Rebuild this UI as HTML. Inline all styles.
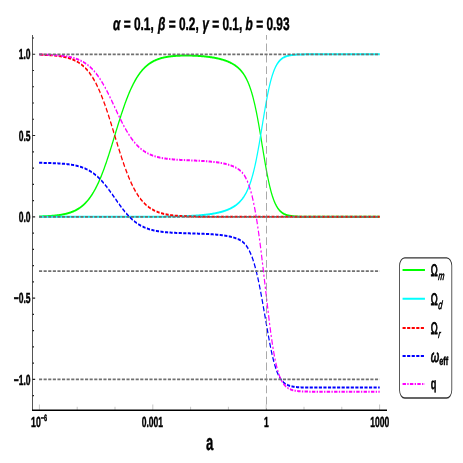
<!DOCTYPE html><html><head><meta charset="utf-8"><title>plot</title>
<style>html,body{margin:0;padding:0;background:#fff;}svg{display:block;will-change:transform;opacity:0.999;}text{font-family:"Liberation Sans",sans-serif;fill:#000;stroke:#000;stroke-width:0.45px;text-rendering:geometricPrecision;}</style></head><body>
<svg width="463" height="463" viewBox="0 0 463 463">
<rect width="463" height="463" fill="#fff"/>
<g transform="scale(0.6,1)">
<path d="M54.17,395.66h2.5 M54.17,379.40h4.4 M54.17,363.14h2.5 M54.17,346.89h2.5 M54.17,330.63h2.5 M54.17,314.38h2.5 M54.17,298.12h4.4 M54.17,281.87h2.5 M54.17,265.62h2.5 M54.17,249.36h2.5 M54.17,233.10h2.5 M54.17,216.85h4.4 M54.17,200.59h2.5 M54.17,184.34h2.5 M54.17,168.08h2.5 M54.17,151.83h2.5 M54.17,135.57h4.4 M54.17,119.32h2.5 M54.17,103.06h2.5 M54.17,86.81h2.5 M54.17,70.55h2.5 M54.17,54.30h4.4 M54.17,38.04h2.5" stroke="#222" stroke-width="1.1" fill="none"/>
<path d="M65.67,410v-5.5 M128.67,410v-3.2 M191.67,410v-3.2 M254.67,410v-5.5 M317.67,410v-3.2 M380.67,410v-3.2 M443.67,410v-5.5 M506.67,410v-3.2 M569.67,410v-3.2 M632.67,410v-5.5" stroke="#999" stroke-width="0.7" fill="none"/>
<path d="M65.17,216.49 L65.88,216.48 L66.59,216.47 L67.30,216.46 L68.01,216.44 L68.72,216.43 L69.43,216.41 L70.14,216.40 L70.85,216.38 L71.56,216.37 L72.27,216.35 L72.98,216.33 L73.69,216.31 L74.40,216.29 L75.11,216.28 L75.82,216.25 L76.53,216.23 L77.24,216.21 L77.96,216.19 L78.67,216.17 L79.38,216.14 L80.09,216.12 L80.80,216.09 L81.51,216.07 L82.22,216.04 L82.93,216.01 L83.64,215.98 L84.35,215.95 L85.06,215.92 L85.77,215.89 L86.48,215.85 L87.19,215.82 L87.90,215.78 L88.61,215.75 L89.32,215.71 L90.03,215.67 L90.74,215.63 L91.45,215.58 L92.16,215.54 L92.88,215.49 L93.59,215.45 L94.30,215.40 L95.01,215.35 L95.72,215.30 L96.43,215.24 L97.14,215.19 L97.85,215.13 L98.56,215.07 L99.27,215.01 L99.98,214.94 L100.69,214.88 L101.40,214.81 L102.11,214.74 L102.82,214.66 L103.53,214.59 L104.24,214.51 L104.95,214.43 L105.66,214.34 L106.37,214.26 L107.08,214.17 L107.79,214.08 L108.51,213.98 L109.22,213.88 L109.93,213.78 L110.64,213.67 L111.35,213.56 L112.06,213.45 L112.77,213.33 L113.48,213.21 L114.19,213.09 L114.90,212.96 L115.61,212.83 L116.32,212.69 L117.03,212.55 L117.74,212.40 L118.45,212.25 L119.16,212.09 L119.87,211.93 L120.58,211.76 L121.29,211.59 L122.00,211.41 L122.71,211.23 L123.43,211.04 L124.14,210.84 L124.85,210.64 L125.56,210.43 L126.27,210.21 L126.98,209.99 L127.69,209.76 L128.40,209.52 L129.11,209.27 L129.82,209.02 L130.53,208.76 L131.24,208.49 L131.95,208.21 L132.66,207.93 L133.37,207.63 L134.08,207.33 L134.79,207.01 L135.50,206.69 L136.21,206.35 L136.92,206.01 L137.63,205.66 L138.35,205.29 L139.06,204.91 L139.77,204.53 L140.48,204.13 L141.19,203.72 L141.90,203.29 L142.61,202.86 L143.32,202.41 L144.03,201.95 L144.74,201.48 L145.45,200.99 L146.16,200.49 L146.87,199.98 L147.58,199.45 L148.29,198.90 L149.00,198.34 L149.71,197.77 L150.42,197.18 L151.13,196.58 L151.84,195.96 L152.55,195.32 L153.27,194.67 L153.98,194.00 L154.69,193.31 L155.40,192.61 L156.11,191.89 L156.82,191.15 L157.53,190.40 L158.24,189.62 L158.95,188.83 L159.66,188.02 L160.37,187.19 L161.08,186.35 L161.79,185.48 L162.50,184.60 L163.21,183.70 L163.92,182.78 L164.63,181.84 L165.34,180.88 L166.05,179.91 L166.76,178.91 L167.47,177.90 L168.19,176.87 L168.90,175.82 L169.61,174.75 L170.32,173.67 L171.03,172.57 L171.74,171.44 L172.45,170.31 L173.16,169.15 L173.87,167.98 L174.58,166.79 L175.29,165.59 L176.00,164.37 L176.71,163.14 L177.42,161.89 L178.13,160.63 L178.84,159.35 L179.55,158.06 L180.26,156.76 L180.97,155.45 L181.68,154.13 L182.39,152.79 L183.10,151.45 L183.82,150.09 L184.53,148.73 L185.24,147.36 L185.95,145.99 L186.66,144.61 L187.37,143.22 L188.08,141.83 L188.79,140.43 L189.50,139.03 L190.21,137.63 L190.92,136.23 L191.63,134.83 L192.34,133.43 L193.05,132.03 L193.76,130.63 L194.47,129.23 L195.18,127.84 L195.89,126.45 L196.60,125.07 L197.31,123.70 L198.02,122.33 L198.74,120.97 L199.45,119.62 L200.16,118.27 L200.87,116.94 L201.58,115.62 L202.29,114.30 L203.00,113.00 L203.71,111.72 L204.42,110.44 L205.13,109.18 L205.84,107.94 L206.55,106.70 L207.26,105.49 L207.97,104.28 L208.68,103.10 L209.39,101.93 L210.10,100.78 L210.81,99.64 L211.52,98.52 L212.23,97.42 L212.94,96.34 L213.66,95.27 L214.37,94.22 L215.08,93.19 L215.79,92.18 L216.50,91.19 L217.21,90.22 L217.92,89.26 L218.63,88.33 L219.34,87.41 L220.05,86.51 L220.76,85.63 L221.47,84.77 L222.18,83.92 L222.89,83.10 L223.60,82.29 L224.31,81.50 L225.02,80.73 L225.73,79.98 L226.44,79.24 L227.15,78.52 L227.86,77.82 L228.58,77.14 L229.29,76.47 L230.00,75.82 L230.71,75.19 L231.42,74.57 L232.13,73.97 L232.84,73.38 L233.55,72.81 L234.26,72.26 L234.97,71.72 L235.68,71.19 L236.39,70.68 L237.10,70.18 L237.81,69.69 L238.52,69.22 L239.23,68.76 L239.94,68.32 L240.65,67.89 L241.36,67.47 L242.07,67.06 L242.78,66.66 L243.49,66.28 L244.21,65.91 L244.92,65.54 L245.63,65.19 L246.34,64.85 L247.05,64.52 L247.76,64.20 L248.47,63.89 L249.18,63.59 L249.89,63.29 L250.60,63.01 L251.31,62.74 L252.02,62.47 L252.73,62.21 L253.44,61.96 L254.15,61.72 L254.86,61.49 L255.57,61.26 L256.28,61.04 L256.99,60.83 L257.70,60.62 L258.41,60.42 L259.13,60.23 L259.84,60.04 L260.55,59.86 L261.26,59.69 L261.97,59.52 L262.68,59.35 L263.39,59.20 L264.10,59.04 L264.81,58.90 L265.52,58.75 L266.23,58.62 L266.94,58.48 L267.65,58.35 L268.36,58.23 L269.07,58.11 L269.78,57.99 L270.49,57.88 L271.20,57.77 L271.91,57.67 L272.62,57.57 L273.33,57.47 L274.05,57.38 L274.76,57.29 L275.47,57.20 L276.18,57.12 L276.89,57.04 L277.60,56.96 L278.31,56.89 L279.02,56.81 L279.73,56.74 L280.44,56.68 L281.15,56.61 L281.86,56.55 L282.57,56.49 L283.28,56.44 L283.99,56.38 L284.70,56.33 L285.41,56.28 L286.12,56.23 L286.83,56.19 L287.54,56.14 L288.25,56.10 L288.97,56.06 L289.68,56.02 L290.39,55.98 L291.10,55.95 L291.81,55.92 L292.52,55.88 L293.23,55.85 L293.94,55.83 L294.65,55.80 L295.36,55.77 L296.07,55.75 L296.78,55.73 L297.49,55.71 L298.20,55.69 L298.91,55.67 L299.62,55.65 L300.33,55.63 L301.04,55.62 L301.75,55.61 L302.46,55.59 L303.17,55.58 L303.89,55.57 L304.60,55.56 L305.31,55.56 L306.02,55.55 L306.73,55.54 L307.44,55.54 L308.15,55.53 L308.86,55.53 L309.57,55.53 L310.28,55.53 L310.99,55.53 L311.70,55.53 L312.41,55.53 L313.12,55.54 L313.83,55.54 L314.54,55.55 L315.25,55.55 L315.96,55.56 L316.67,55.57 L317.38,55.58 L318.09,55.59 L318.80,55.60 L319.52,55.61 L320.23,55.62 L320.94,55.64 L321.65,55.65 L322.36,55.67 L323.07,55.68 L323.78,55.70 L324.49,55.72 L325.20,55.74 L325.91,55.76 L326.62,55.78 L327.33,55.80 L328.04,55.82 L328.75,55.84 L329.46,55.87 L330.17,55.90 L330.88,55.92 L331.59,55.95 L332.30,55.98 L333.01,56.01 L333.72,56.04 L334.44,56.07 L335.15,56.10 L335.86,56.14 L336.57,56.17 L337.28,56.21 L337.99,56.24 L338.70,56.28 L339.41,56.32 L340.12,56.36 L340.83,56.40 L341.54,56.45 L342.25,56.49 L342.96,56.54 L343.67,56.58 L344.38,56.63 L345.09,56.68 L345.80,56.73 L346.51,56.78 L347.22,56.84 L347.93,56.89 L348.64,56.95 L349.36,57.01 L350.07,57.07 L350.78,57.13 L351.49,57.19 L352.20,57.25 L352.91,57.32 L353.62,57.39 L354.33,57.45 L355.04,57.53 L355.75,57.60 L356.46,57.67 L357.17,57.75 L357.88,57.83 L358.59,57.91 L359.30,57.99 L360.01,58.07 L360.72,58.16 L361.43,58.25 L362.14,58.34 L362.85,58.43 L363.56,58.53 L364.28,58.63 L364.99,58.73 L365.70,58.83 L366.41,58.94 L367.12,59.04 L367.83,59.15 L368.54,59.27 L369.25,59.39 L369.96,59.51 L370.67,59.63 L371.38,59.75 L372.09,59.88 L372.80,60.02 L373.51,60.15 L374.22,60.29 L374.93,60.44 L375.64,60.58 L376.35,60.74 L377.06,60.89 L377.77,61.05 L378.48,61.22 L379.20,61.39 L379.91,61.56 L380.62,61.74 L381.33,61.92 L382.04,62.11 L382.75,62.31 L383.46,62.51 L384.17,62.71 L384.88,62.93 L385.59,63.15 L386.30,63.37 L387.01,63.60 L387.72,63.84 L388.43,64.09 L389.14,64.35 L389.85,64.61 L390.56,64.88 L391.27,65.17 L391.98,65.46 L392.69,65.76 L393.40,66.07 L394.11,66.40 L394.83,66.73 L395.54,67.08 L396.25,67.44 L396.96,67.81 L397.67,68.20 L398.38,68.60 L399.09,69.01 L399.80,69.45 L400.51,69.90 L401.22,70.37 L401.93,70.85 L402.64,71.36 L403.35,71.89 L404.06,72.44 L404.77,73.01 L405.48,73.61 L406.19,74.23 L406.90,74.89 L407.61,75.56 L408.32,76.27 L409.03,77.01 L409.75,77.79 L410.46,78.59 L411.17,79.44 L411.88,80.32 L412.59,81.24 L413.30,82.20 L414.01,83.21 L414.72,84.26 L415.43,85.35 L416.14,86.50 L416.85,87.70 L417.56,88.95 L418.27,90.25 L418.98,91.61 L419.69,93.02 L420.40,94.50 L421.11,96.03 L421.82,97.63 L422.53,99.29 L423.24,101.01 L423.95,102.80 L424.67,104.65 L425.38,106.56 L426.09,108.54 L426.80,110.58 L427.51,112.69 L428.22,114.85 L428.93,117.07 L429.64,119.35 L430.35,121.68 L431.06,124.07 L431.77,126.49 L432.48,128.96 L433.19,131.47 L433.90,134.01 L434.61,136.58 L435.32,139.17 L436.03,141.77 L436.74,144.39 L437.45,147.00 L438.16,149.61 L438.87,152.22 L439.59,154.80 L440.30,157.37 L441.01,159.90 L441.72,162.40 L442.43,164.86 L443.14,167.27 L443.85,169.63 L444.56,171.94 L445.27,174.18 L445.98,176.36 L446.69,178.48 L447.40,180.53 L448.11,182.51 L448.82,184.41 L449.53,186.25 L450.24,188.00 L450.95,189.69 L451.66,191.30 L452.37,192.83 L453.08,194.30 L453.79,195.69 L454.51,197.01 L455.22,198.26 L455.93,199.45 L456.64,200.57 L457.35,201.63 L458.06,202.63 L458.77,203.57 L459.48,204.46 L460.19,205.29 L460.90,206.08 L461.61,206.81 L462.32,207.50 L463.03,208.14 L463.74,208.75 L464.45,209.31 L465.16,209.84 L465.87,210.33 L466.58,210.79 L467.29,211.22 L468.00,211.62 L468.71,212.00 L469.42,212.34 L470.14,212.67 L470.85,212.97 L471.56,213.25 L472.27,213.51 L472.98,213.75 L473.69,213.98 L474.40,214.19 L475.11,214.38 L475.82,214.56 L476.53,214.73 L477.24,214.88 L477.95,215.03 L478.66,215.16 L479.37,215.29 L480.08,215.40 L480.79,215.51 L481.50,215.61 L482.21,215.70 L482.92,215.78 L483.63,215.86 L484.34,215.94 L485.06,216.00 L485.77,216.07 L486.48,216.12 L487.19,216.18 L487.90,216.23 L488.61,216.27 L489.32,216.32 L490.03,216.36 L490.74,216.39 L491.45,216.43 L492.16,216.46 L492.87,216.49 L493.58,216.52 L494.29,216.54 L495.00,216.56 L495.71,216.58 L496.42,216.60 L497.13,216.62 L497.84,216.64 L498.55,216.66 L499.26,216.67 L499.98,216.68 L500.69,216.70 L501.40,216.71 L502.11,216.72 L502.82,216.73 L503.53,216.74 L504.24,216.75 L504.95,216.75 L505.66,216.76 L506.37,216.77 L507.08,216.77 L507.79,216.78 L508.50,216.78 L509.21,216.79 L509.92,216.79 L510.63,216.80 L511.34,216.80 L512.05,216.81 L512.76,216.81 L513.47,216.81 L514.18,216.81 L514.90,216.82 L515.61,216.82 L516.32,216.82 L517.03,216.82 L517.74,216.83 L518.45,216.83 L519.16,216.83 L519.87,216.83 L520.58,216.83 L521.29,216.83 L522.00,216.84 L522.71,216.84 L523.42,216.84 L524.13,216.84 L524.84,216.84 L525.55,216.84 L526.26,216.84 L526.97,216.84 L527.68,216.84 L528.39,216.84 L529.10,216.84 L529.81,216.84 L530.53,216.84 L531.24,216.84 L531.95,216.84 L532.66,216.85 L533.37,216.85 L534.08,216.85 L534.79,216.85 L535.50,216.85 L536.21,216.85 L536.92,216.85 L537.63,216.85 L538.34,216.85 L539.05,216.85 L539.76,216.85 L540.47,216.85 L541.18,216.85 L541.89,216.85 L542.60,216.85 L543.31,216.85 L544.02,216.85 L544.73,216.85 L545.45,216.85 L546.16,216.85 L546.87,216.85 L547.58,216.85 L548.29,216.85 L549.00,216.85 L549.71,216.85 L550.42,216.85 L551.13,216.85 L551.84,216.85 L552.55,216.85 L553.26,216.85 L553.97,216.85 L554.68,216.85 L555.39,216.85 L556.10,216.85 L556.81,216.85 L557.52,216.85 L558.23,216.85 L558.94,216.85 L559.65,216.85 L560.37,216.85 L561.08,216.85 L561.79,216.85 L562.50,216.85 L563.21,216.85 L563.92,216.85 L564.63,216.85 L565.34,216.85 L566.05,216.85 L566.76,216.85 L567.47,216.85 L568.18,216.85 L568.89,216.85 L569.60,216.85 L570.31,216.85 L571.02,216.85 L571.73,216.85 L572.44,216.85 L573.15,216.85 L573.86,216.85 L574.57,216.85 L575.29,216.85 L576.00,216.85 L576.71,216.85 L577.42,216.85 L578.13,216.85 L578.84,216.85 L579.55,216.85 L580.26,216.85 L580.97,216.85 L581.68,216.85 L582.39,216.85 L583.10,216.85 L583.81,216.85 L584.52,216.85 L585.23,216.85 L585.94,216.85 L586.65,216.85 L587.36,216.85 L588.07,216.85 L588.78,216.85 L589.49,216.85 L590.21,216.85 L590.92,216.85 L591.63,216.85 L592.34,216.85 L593.05,216.85 L593.76,216.85 L594.47,216.85 L595.18,216.85 L595.89,216.85 L596.60,216.85 L597.31,216.85 L598.02,216.85 L598.73,216.85 L599.44,216.85 L600.15,216.85 L600.86,216.85 L601.57,216.85 L602.28,216.85 L602.99,216.85 L603.70,216.85 L604.41,216.85 L605.12,216.85 L605.84,216.85 L606.55,216.85 L607.26,216.85 L607.97,216.85 L608.68,216.85 L609.39,216.85 L610.10,216.85 L610.81,216.85 L611.52,216.85 L612.23,216.85 L612.94,216.85 L613.65,216.85 L614.36,216.85 L615.07,216.85 L615.78,216.85 L616.49,216.85 L617.20,216.85 L617.91,216.85 L618.62,216.85 L619.33,216.85 L620.04,216.85 L620.76,216.85 L621.47,216.85 L622.18,216.85 L622.89,216.85 L623.60,216.85 L624.31,216.85 L625.02,216.85 L625.73,216.85 L626.44,216.85 L627.15,216.85 L627.86,216.85 L628.57,216.85 L629.28,216.85 L629.99,216.85 L630.70,216.85 L631.41,216.85 L632.12,216.85 L632.83,216.85" stroke="#00ff00" stroke-width="2.0" fill="none" stroke-linejoin="round"/>
<path d="M65.17,216.85 L65.88,216.85 L66.59,216.85 L67.30,216.85 L68.01,216.85 L68.72,216.85 L69.43,216.85 L70.14,216.85 L70.85,216.85 L71.56,216.85 L72.27,216.85 L72.98,216.85 L73.69,216.85 L74.40,216.85 L75.11,216.85 L75.82,216.85 L76.53,216.85 L77.24,216.85 L77.96,216.85 L78.67,216.85 L79.38,216.85 L80.09,216.85 L80.80,216.85 L81.51,216.85 L82.22,216.85 L82.93,216.85 L83.64,216.85 L84.35,216.85 L85.06,216.85 L85.77,216.85 L86.48,216.85 L87.19,216.85 L87.90,216.85 L88.61,216.85 L89.32,216.85 L90.03,216.85 L90.74,216.85 L91.45,216.85 L92.16,216.85 L92.88,216.85 L93.59,216.85 L94.30,216.85 L95.01,216.85 L95.72,216.85 L96.43,216.85 L97.14,216.85 L97.85,216.85 L98.56,216.85 L99.27,216.85 L99.98,216.85 L100.69,216.85 L101.40,216.85 L102.11,216.85 L102.82,216.85 L103.53,216.85 L104.24,216.85 L104.95,216.85 L105.66,216.85 L106.37,216.85 L107.08,216.85 L107.79,216.85 L108.51,216.85 L109.22,216.85 L109.93,216.85 L110.64,216.85 L111.35,216.85 L112.06,216.85 L112.77,216.85 L113.48,216.85 L114.19,216.85 L114.90,216.85 L115.61,216.85 L116.32,216.85 L117.03,216.85 L117.74,216.85 L118.45,216.85 L119.16,216.85 L119.87,216.85 L120.58,216.85 L121.29,216.85 L122.00,216.85 L122.71,216.85 L123.43,216.85 L124.14,216.85 L124.85,216.85 L125.56,216.85 L126.27,216.85 L126.98,216.85 L127.69,216.85 L128.40,216.85 L129.11,216.85 L129.82,216.85 L130.53,216.85 L131.24,216.85 L131.95,216.85 L132.66,216.85 L133.37,216.85 L134.08,216.85 L134.79,216.85 L135.50,216.85 L136.21,216.85 L136.92,216.85 L137.63,216.85 L138.35,216.85 L139.06,216.85 L139.77,216.85 L140.48,216.85 L141.19,216.85 L141.90,216.85 L142.61,216.85 L143.32,216.85 L144.03,216.85 L144.74,216.85 L145.45,216.85 L146.16,216.85 L146.87,216.85 L147.58,216.85 L148.29,216.85 L149.00,216.85 L149.71,216.85 L150.42,216.85 L151.13,216.85 L151.84,216.85 L152.55,216.85 L153.27,216.85 L153.98,216.85 L154.69,216.85 L155.40,216.85 L156.11,216.85 L156.82,216.85 L157.53,216.85 L158.24,216.85 L158.95,216.85 L159.66,216.85 L160.37,216.85 L161.08,216.85 L161.79,216.85 L162.50,216.85 L163.21,216.85 L163.92,216.85 L164.63,216.85 L165.34,216.85 L166.05,216.85 L166.76,216.85 L167.47,216.85 L168.19,216.85 L168.90,216.85 L169.61,216.85 L170.32,216.85 L171.03,216.85 L171.74,216.85 L172.45,216.85 L173.16,216.85 L173.87,216.85 L174.58,216.85 L175.29,216.85 L176.00,216.85 L176.71,216.85 L177.42,216.85 L178.13,216.85 L178.84,216.85 L179.55,216.85 L180.26,216.85 L180.97,216.85 L181.68,216.85 L182.39,216.85 L183.10,216.85 L183.82,216.85 L184.53,216.85 L185.24,216.84 L185.95,216.84 L186.66,216.84 L187.37,216.84 L188.08,216.84 L188.79,216.84 L189.50,216.84 L190.21,216.84 L190.92,216.84 L191.63,216.84 L192.34,216.84 L193.05,216.84 L193.76,216.84 L194.47,216.84 L195.18,216.84 L195.89,216.84 L196.60,216.84 L197.31,216.84 L198.02,216.84 L198.74,216.84 L199.45,216.84 L200.16,216.84 L200.87,216.84 L201.58,216.84 L202.29,216.84 L203.00,216.84 L203.71,216.84 L204.42,216.84 L205.13,216.83 L205.84,216.83 L206.55,216.83 L207.26,216.83 L207.97,216.83 L208.68,216.83 L209.39,216.83 L210.10,216.83 L210.81,216.83 L211.52,216.83 L212.23,216.83 L212.94,216.83 L213.66,216.83 L214.37,216.83 L215.08,216.83 L215.79,216.82 L216.50,216.82 L217.21,216.82 L217.92,216.82 L218.63,216.82 L219.34,216.82 L220.05,216.82 L220.76,216.82 L221.47,216.82 L222.18,216.82 L222.89,216.82 L223.60,216.81 L224.31,216.81 L225.02,216.81 L225.73,216.81 L226.44,216.81 L227.15,216.81 L227.86,216.81 L228.58,216.81 L229.29,216.81 L230.00,216.80 L230.71,216.80 L231.42,216.80 L232.13,216.80 L232.84,216.80 L233.55,216.80 L234.26,216.80 L234.97,216.79 L235.68,216.79 L236.39,216.79 L237.10,216.79 L237.81,216.79 L238.52,216.79 L239.23,216.78 L239.94,216.78 L240.65,216.78 L241.36,216.78 L242.07,216.78 L242.78,216.78 L243.49,216.77 L244.21,216.77 L244.92,216.77 L245.63,216.77 L246.34,216.77 L247.05,216.76 L247.76,216.76 L248.47,216.76 L249.18,216.76 L249.89,216.75 L250.60,216.75 L251.31,216.75 L252.02,216.75 L252.73,216.74 L253.44,216.74 L254.15,216.74 L254.86,216.74 L255.57,216.73 L256.28,216.73 L256.99,216.73 L257.70,216.72 L258.41,216.72 L259.13,216.72 L259.84,216.71 L260.55,216.71 L261.26,216.71 L261.97,216.70 L262.68,216.70 L263.39,216.70 L264.10,216.69 L264.81,216.69 L265.52,216.69 L266.23,216.68 L266.94,216.68 L267.65,216.67 L268.36,216.67 L269.07,216.66 L269.78,216.66 L270.49,216.65 L271.20,216.65 L271.91,216.65 L272.62,216.64 L273.33,216.64 L274.05,216.63 L274.76,216.62 L275.47,216.62 L276.18,216.61 L276.89,216.61 L277.60,216.60 L278.31,216.60 L279.02,216.59 L279.73,216.58 L280.44,216.58 L281.15,216.57 L281.86,216.56 L282.57,216.56 L283.28,216.55 L283.99,216.54 L284.70,216.54 L285.41,216.53 L286.12,216.52 L286.83,216.51 L287.54,216.50 L288.25,216.50 L288.97,216.49 L289.68,216.48 L290.39,216.47 L291.10,216.46 L291.81,216.45 L292.52,216.44 L293.23,216.43 L293.94,216.42 L294.65,216.41 L295.36,216.40 L296.07,216.39 L296.78,216.38 L297.49,216.37 L298.20,216.36 L298.91,216.35 L299.62,216.33 L300.33,216.32 L301.04,216.31 L301.75,216.30 L302.46,216.28 L303.17,216.27 L303.89,216.26 L304.60,216.24 L305.31,216.23 L306.02,216.21 L306.73,216.20 L307.44,216.18 L308.15,216.17 L308.86,216.15 L309.57,216.13 L310.28,216.12 L310.99,216.10 L311.70,216.08 L312.41,216.06 L313.12,216.05 L313.83,216.03 L314.54,216.01 L315.25,215.99 L315.96,215.97 L316.67,215.95 L317.38,215.92 L318.09,215.90 L318.80,215.88 L319.52,215.86 L320.23,215.83 L320.94,215.81 L321.65,215.79 L322.36,215.76 L323.07,215.74 L323.78,215.71 L324.49,215.68 L325.20,215.65 L325.91,215.63 L326.62,215.60 L327.33,215.57 L328.04,215.54 L328.75,215.51 L329.46,215.48 L330.17,215.44 L330.88,215.41 L331.59,215.38 L332.30,215.34 L333.01,215.31 L333.72,215.27 L334.44,215.23 L335.15,215.20 L335.86,215.16 L336.57,215.12 L337.28,215.08 L337.99,215.03 L338.70,214.99 L339.41,214.95 L340.12,214.90 L340.83,214.86 L341.54,214.81 L342.25,214.76 L342.96,214.71 L343.67,214.66 L344.38,214.61 L345.09,214.56 L345.80,214.51 L346.51,214.45 L347.22,214.40 L347.93,214.34 L348.64,214.28 L349.36,214.22 L350.07,214.16 L350.78,214.09 L351.49,214.03 L352.20,213.96 L352.91,213.89 L353.62,213.82 L354.33,213.75 L355.04,213.68 L355.75,213.61 L356.46,213.53 L357.17,213.45 L357.88,213.37 L358.59,213.29 L359.30,213.21 L360.01,213.12 L360.72,213.03 L361.43,212.94 L362.14,212.85 L362.85,212.76 L363.56,212.66 L364.28,212.56 L364.99,212.46 L365.70,212.35 L366.41,212.25 L367.12,212.14 L367.83,212.02 L368.54,211.91 L369.25,211.79 L369.96,211.67 L370.67,211.55 L371.38,211.42 L372.09,211.29 L372.80,211.16 L373.51,211.02 L374.22,210.88 L374.93,210.73 L375.64,210.59 L376.35,210.43 L377.06,210.28 L377.77,210.12 L378.48,209.95 L379.20,209.78 L379.91,209.61 L380.62,209.43 L381.33,209.24 L382.04,209.05 L382.75,208.86 L383.46,208.66 L384.17,208.45 L384.88,208.24 L385.59,208.02 L386.30,207.79 L387.01,207.56 L387.72,207.32 L388.43,207.07 L389.14,206.81 L389.85,206.55 L390.56,206.27 L391.27,205.99 L391.98,205.70 L392.69,205.40 L393.40,205.09 L394.11,204.76 L394.83,204.43 L395.54,204.08 L396.25,203.72 L396.96,203.35 L397.67,202.96 L398.38,202.56 L399.09,202.14 L399.80,201.71 L400.51,201.26 L401.22,200.79 L401.93,200.30 L402.64,199.79 L403.35,199.27 L404.06,198.72 L404.77,198.14 L405.48,197.54 L406.19,196.92 L406.90,196.27 L407.61,195.59 L408.32,194.88 L409.03,194.14 L409.75,193.37 L410.46,192.56 L411.17,191.72 L411.88,190.83 L412.59,189.91 L413.30,188.95 L414.01,187.95 L414.72,186.90 L415.43,185.80 L416.14,184.65 L416.85,183.45 L417.56,182.21 L418.27,180.90 L418.98,179.54 L419.69,178.13 L420.40,176.65 L421.11,175.12 L421.82,173.52 L422.53,171.86 L423.24,170.14 L423.95,168.35 L424.67,166.50 L425.38,164.59 L426.09,162.61 L426.80,160.57 L427.51,158.46 L428.22,156.30 L428.93,154.08 L429.64,151.80 L430.35,149.47 L431.06,147.08 L431.77,144.66 L432.48,142.19 L433.19,139.68 L433.90,137.14 L434.61,134.57 L435.32,131.98 L436.03,129.38 L436.74,126.76 L437.45,124.15 L438.16,121.54 L438.87,118.93 L439.59,116.35 L440.30,113.78 L441.01,111.25 L441.72,108.75 L442.43,106.29 L443.14,103.88 L443.85,101.52 L444.56,99.21 L445.27,96.97 L445.98,94.79 L446.69,92.67 L447.40,90.62 L448.11,88.64 L448.82,86.74 L449.53,84.90 L450.24,83.15 L450.95,81.46 L451.66,79.85 L452.37,78.32 L453.08,76.85 L453.79,75.46 L454.51,74.14 L455.22,72.89 L455.93,71.70 L456.64,70.58 L457.35,69.52 L458.06,68.52 L458.77,67.58 L459.48,66.69 L460.19,65.86 L460.90,65.07 L461.61,64.34 L462.32,63.65 L463.03,63.01 L463.74,62.40 L464.45,61.84 L465.16,61.31 L465.87,60.82 L466.58,60.36 L467.29,59.93 L468.00,59.53 L468.71,59.15 L469.42,58.81 L470.14,58.48 L470.85,58.18 L471.56,57.90 L472.27,57.64 L472.98,57.40 L473.69,57.17 L474.40,56.96 L475.11,56.77 L475.82,56.59 L476.53,56.42 L477.24,56.27 L477.95,56.12 L478.66,55.99 L479.37,55.86 L480.08,55.75 L480.79,55.64 L481.50,55.54 L482.21,55.45 L482.92,55.37 L483.63,55.29 L484.34,55.21 L485.06,55.15 L485.77,55.08 L486.48,55.03 L487.19,54.97 L487.90,54.92 L488.61,54.88 L489.32,54.83 L490.03,54.79 L490.74,54.76 L491.45,54.72 L492.16,54.69 L492.87,54.66 L493.58,54.63 L494.29,54.61 L495.00,54.59 L495.71,54.57 L496.42,54.55 L497.13,54.53 L497.84,54.51 L498.55,54.49 L499.26,54.48 L499.98,54.47 L500.69,54.45 L501.40,54.44 L502.11,54.43 L502.82,54.42 L503.53,54.41 L504.24,54.40 L504.95,54.40 L505.66,54.39 L506.37,54.38 L507.08,54.38 L507.79,54.37 L508.50,54.37 L509.21,54.36 L509.92,54.36 L510.63,54.35 L511.34,54.35 L512.05,54.34 L512.76,54.34 L513.47,54.34 L514.18,54.34 L514.90,54.33 L515.61,54.33 L516.32,54.33 L517.03,54.33 L517.74,54.32 L518.45,54.32 L519.16,54.32 L519.87,54.32 L520.58,54.32 L521.29,54.32 L522.00,54.31 L522.71,54.31 L523.42,54.31 L524.13,54.31 L524.84,54.31 L525.55,54.31 L526.26,54.31 L526.97,54.31 L527.68,54.31 L528.39,54.31 L529.10,54.31 L529.81,54.31 L530.53,54.31 L531.24,54.31 L531.95,54.31 L532.66,54.30 L533.37,54.30 L534.08,54.30 L534.79,54.30 L535.50,54.30 L536.21,54.30 L536.92,54.30 L537.63,54.30 L538.34,54.30 L539.05,54.30 L539.76,54.30 L540.47,54.30 L541.18,54.30 L541.89,54.30 L542.60,54.30 L543.31,54.30 L544.02,54.30 L544.73,54.30 L545.45,54.30 L546.16,54.30 L546.87,54.30 L547.58,54.30 L548.29,54.30 L549.00,54.30 L549.71,54.30 L550.42,54.30 L551.13,54.30 L551.84,54.30 L552.55,54.30 L553.26,54.30 L553.97,54.30 L554.68,54.30 L555.39,54.30 L556.10,54.30 L556.81,54.30 L557.52,54.30 L558.23,54.30 L558.94,54.30 L559.65,54.30 L560.37,54.30 L561.08,54.30 L561.79,54.30 L562.50,54.30 L563.21,54.30 L563.92,54.30 L564.63,54.30 L565.34,54.30 L566.05,54.30 L566.76,54.30 L567.47,54.30 L568.18,54.30 L568.89,54.30 L569.60,54.30 L570.31,54.30 L571.02,54.30 L571.73,54.30 L572.44,54.30 L573.15,54.30 L573.86,54.30 L574.57,54.30 L575.29,54.30 L576.00,54.30 L576.71,54.30 L577.42,54.30 L578.13,54.30 L578.84,54.30 L579.55,54.30 L580.26,54.30 L580.97,54.30 L581.68,54.30 L582.39,54.30 L583.10,54.30 L583.81,54.30 L584.52,54.30 L585.23,54.30 L585.94,54.30 L586.65,54.30 L587.36,54.30 L588.07,54.30 L588.78,54.30 L589.49,54.30 L590.21,54.30 L590.92,54.30 L591.63,54.30 L592.34,54.30 L593.05,54.30 L593.76,54.30 L594.47,54.30 L595.18,54.30 L595.89,54.30 L596.60,54.30 L597.31,54.30 L598.02,54.30 L598.73,54.30 L599.44,54.30 L600.15,54.30 L600.86,54.30 L601.57,54.30 L602.28,54.30 L602.99,54.30 L603.70,54.30 L604.41,54.30 L605.12,54.30 L605.84,54.30 L606.55,54.30 L607.26,54.30 L607.97,54.30 L608.68,54.30 L609.39,54.30 L610.10,54.30 L610.81,54.30 L611.52,54.30 L612.23,54.30 L612.94,54.30 L613.65,54.30 L614.36,54.30 L615.07,54.30 L615.78,54.30 L616.49,54.30 L617.20,54.30 L617.91,54.30 L618.62,54.30 L619.33,54.30 L620.04,54.30 L620.76,54.30 L621.47,54.30 L622.18,54.30 L622.89,54.30 L623.60,54.30 L624.31,54.30 L625.02,54.30 L625.73,54.30 L626.44,54.30 L627.15,54.30 L627.86,54.30 L628.57,54.30 L629.28,54.30 L629.99,54.30 L630.70,54.30 L631.41,54.30 L632.12,54.30 L632.83,54.30" stroke="#00ffff" stroke-width="2.0" fill="none" stroke-linejoin="round"/>
<path d="M65.17,54.66 L65.88,54.67 L66.59,54.68 L67.30,54.69 L68.01,54.71 L68.72,54.72 L69.43,54.74 L70.14,54.75 L70.85,54.77 L71.56,54.78 L72.27,54.80 L72.98,54.82 L73.69,54.84 L74.40,54.86 L75.11,54.87 L75.82,54.90 L76.53,54.92 L77.24,54.94 L77.96,54.96 L78.67,54.98 L79.38,55.01 L80.09,55.03 L80.80,55.06 L81.51,55.08 L82.22,55.11 L82.93,55.14 L83.64,55.17 L84.35,55.20 L85.06,55.23 L85.77,55.26 L86.48,55.30 L87.19,55.33 L87.90,55.37 L88.61,55.40 L89.32,55.44 L90.03,55.48 L90.74,55.52 L91.45,55.57 L92.16,55.61 L92.88,55.66 L93.59,55.70 L94.30,55.75 L95.01,55.80 L95.72,55.85 L96.43,55.91 L97.14,55.96 L97.85,56.02 L98.56,56.08 L99.27,56.14 L99.98,56.21 L100.69,56.27 L101.40,56.34 L102.11,56.41 L102.82,56.49 L103.53,56.56 L104.24,56.64 L104.95,56.72 L105.66,56.81 L106.37,56.89 L107.08,56.98 L107.79,57.07 L108.51,57.17 L109.22,57.27 L109.93,57.37 L110.64,57.48 L111.35,57.59 L112.06,57.70 L112.77,57.82 L113.48,57.94 L114.19,58.06 L114.90,58.19 L115.61,58.32 L116.32,58.46 L117.03,58.60 L117.74,58.75 L118.45,58.90 L119.16,59.06 L119.87,59.22 L120.58,59.39 L121.29,59.56 L122.00,59.74 L122.71,59.92 L123.43,60.11 L124.14,60.31 L124.85,60.51 L125.56,60.72 L126.27,60.94 L126.98,61.16 L127.69,61.39 L128.40,61.63 L129.11,61.88 L129.82,62.13 L130.53,62.39 L131.24,62.66 L131.95,62.94 L132.66,63.22 L133.37,63.52 L134.08,63.82 L134.79,64.14 L135.50,64.46 L136.21,64.80 L136.92,65.14 L137.63,65.49 L138.35,65.86 L139.06,66.24 L139.77,66.62 L140.48,67.02 L141.19,67.43 L141.90,67.86 L142.61,68.29 L143.32,68.74 L144.03,69.20 L144.74,69.67 L145.45,70.16 L146.16,70.66 L146.87,71.18 L147.58,71.70 L148.29,72.25 L149.00,72.81 L149.71,73.38 L150.42,73.97 L151.13,74.57 L151.84,75.19 L152.55,75.83 L153.27,76.48 L153.98,77.15 L154.69,77.84 L155.40,78.54 L156.11,79.26 L156.82,80.00 L157.53,80.76 L158.24,81.53 L158.95,82.32 L159.66,83.13 L160.37,83.96 L161.08,84.80 L161.79,85.67 L162.50,86.55 L163.21,87.45 L163.92,88.37 L164.63,89.31 L165.34,90.27 L166.05,91.24 L166.76,92.24 L167.47,93.25 L168.19,94.28 L168.90,95.33 L169.61,96.40 L170.32,97.48 L171.03,98.59 L171.74,99.71 L172.45,100.85 L173.16,102.00 L173.87,103.17 L174.58,104.36 L175.29,105.56 L176.00,106.78 L176.71,108.01 L177.42,109.26 L178.13,110.53 L178.84,111.80 L179.55,113.09 L180.26,114.39 L180.97,115.70 L181.68,117.03 L182.39,118.36 L183.10,119.71 L183.82,121.06 L184.53,122.42 L185.24,123.79 L185.95,125.17 L186.66,126.55 L187.37,127.94 L188.08,129.33 L188.79,130.73 L189.50,132.12 L190.21,133.53 L190.92,134.93 L191.63,136.33 L192.34,137.73 L193.05,139.13 L193.76,140.53 L194.47,141.93 L195.18,143.32 L195.89,144.71 L196.60,146.09 L197.31,147.46 L198.02,148.83 L198.74,150.19 L199.45,151.55 L200.16,152.89 L200.87,154.22 L201.58,155.55 L202.29,156.86 L203.00,158.16 L203.71,159.45 L204.42,160.72 L205.13,161.98 L205.84,163.23 L206.55,164.46 L207.26,165.68 L207.97,166.88 L208.68,168.07 L209.39,169.24 L210.10,170.39 L210.81,171.53 L211.52,172.65 L212.23,173.75 L212.94,174.84 L213.66,175.90 L214.37,176.95 L215.08,177.98 L215.79,178.99 L216.50,179.98 L217.21,180.96 L217.92,181.91 L218.63,182.85 L219.34,183.77 L220.05,184.67 L220.76,185.55 L221.47,186.42 L222.18,187.26 L222.89,188.09 L223.60,188.89 L224.31,189.68 L225.02,190.46 L225.73,191.21 L226.44,191.95 L227.15,192.67 L227.86,193.37 L228.58,194.05 L229.29,194.72 L230.00,195.37 L230.71,196.01 L231.42,196.63 L232.13,197.23 L232.84,197.82 L233.55,198.39 L234.26,198.95 L234.97,199.49 L235.68,200.02 L236.39,200.53 L237.10,201.03 L237.81,201.52 L238.52,201.99 L239.23,202.45 L239.94,202.90 L240.65,203.33 L241.36,203.75 L242.07,204.16 L242.78,204.56 L243.49,204.95 L244.21,205.32 L244.92,205.69 L245.63,206.04 L246.34,206.38 L247.05,206.72 L247.76,207.04 L248.47,207.35 L249.18,207.66 L249.89,207.95 L250.60,208.24 L251.31,208.51 L252.02,208.78 L252.73,209.04 L253.44,209.30 L254.15,209.54 L254.86,209.78 L255.57,210.01 L256.28,210.23 L256.99,210.45 L257.70,210.66 L258.41,210.86 L259.13,211.05 L259.84,211.24 L260.55,211.43 L261.26,211.61 L261.97,211.78 L262.68,211.95 L263.39,212.11 L264.10,212.26 L264.81,212.42 L265.52,212.56 L266.23,212.70 L266.94,212.84 L267.65,212.97 L268.36,213.10 L269.07,213.23 L269.78,213.35 L270.49,213.46 L271.20,213.58 L271.91,213.69 L272.62,213.79 L273.33,213.89 L274.05,213.99 L274.76,214.09 L275.47,214.18 L276.18,214.27 L276.89,214.35 L277.60,214.44 L278.31,214.52 L279.02,214.60 L279.73,214.67 L280.44,214.75 L281.15,214.82 L281.86,214.88 L282.57,214.95 L283.28,215.01 L283.99,215.08 L284.70,215.14 L285.41,215.19 L286.12,215.25 L286.83,215.30 L287.54,215.35 L288.25,215.40 L288.97,215.45 L289.68,215.50 L290.39,215.55 L291.10,215.59 L291.81,215.63 L292.52,215.67 L293.23,215.71 L293.94,215.75 L294.65,215.79 L295.36,215.82 L296.07,215.86 L296.78,215.89 L297.49,215.93 L298.20,215.96 L298.91,215.99 L299.62,216.02 L300.33,216.04 L301.04,216.07 L301.75,216.10 L302.46,216.12 L303.17,216.15 L303.89,216.17 L304.60,216.19 L305.31,216.22 L306.02,216.24 L306.73,216.26 L307.44,216.28 L308.15,216.30 L308.86,216.32 L309.57,216.33 L310.28,216.35 L310.99,216.37 L311.70,216.39 L312.41,216.40 L313.12,216.42 L313.83,216.43 L314.54,216.45 L315.25,216.46 L315.96,216.47 L316.67,216.49 L317.38,216.50 L318.09,216.51 L318.80,216.52 L319.52,216.53 L320.23,216.54 L320.94,216.55 L321.65,216.56 L322.36,216.57 L323.07,216.58 L323.78,216.59 L324.49,216.60 L325.20,216.61 L325.91,216.62 L326.62,216.63 L327.33,216.63 L328.04,216.64 L328.75,216.65 L329.46,216.65 L330.17,216.66 L330.88,216.67 L331.59,216.67 L332.30,216.68 L333.01,216.69 L333.72,216.69 L334.44,216.70 L335.15,216.70 L335.86,216.71 L336.57,216.71 L337.28,216.72 L337.99,216.72 L338.70,216.73 L339.41,216.73 L340.12,216.73 L340.83,216.74 L341.54,216.74 L342.25,216.75 L342.96,216.75 L343.67,216.75 L344.38,216.76 L345.09,216.76 L345.80,216.76 L346.51,216.77 L347.22,216.77 L347.93,216.77 L348.64,216.77 L349.36,216.78 L350.07,216.78 L350.78,216.78 L351.49,216.78 L352.20,216.79 L352.91,216.79 L353.62,216.79 L354.33,216.79 L355.04,216.79 L355.75,216.80 L356.46,216.80 L357.17,216.80 L357.88,216.80 L358.59,216.80 L359.30,216.80 L360.01,216.81 L360.72,216.81 L361.43,216.81 L362.14,216.81 L362.85,216.81 L363.56,216.81 L364.28,216.81 L364.99,216.82 L365.70,216.82 L366.41,216.82 L367.12,216.82 L367.83,216.82 L368.54,216.82 L369.25,216.82 L369.96,216.82 L370.67,216.82 L371.38,216.83 L372.09,216.83 L372.80,216.83 L373.51,216.83 L374.22,216.83 L374.93,216.83 L375.64,216.83 L376.35,216.83 L377.06,216.83 L377.77,216.83 L378.48,216.83 L379.20,216.83 L379.91,216.83 L380.62,216.83 L381.33,216.83 L382.04,216.84 L382.75,216.84 L383.46,216.84 L384.17,216.84 L384.88,216.84 L385.59,216.84 L386.30,216.84 L387.01,216.84 L387.72,216.84 L388.43,216.84 L389.14,216.84 L389.85,216.84 L390.56,216.84 L391.27,216.84 L391.98,216.84 L392.69,216.84 L393.40,216.84 L394.11,216.84 L394.83,216.84 L395.54,216.84 L396.25,216.84 L396.96,216.84 L397.67,216.84 L398.38,216.84 L399.09,216.84 L399.80,216.84 L400.51,216.84 L401.22,216.84 L401.93,216.84 L402.64,216.84 L403.35,216.85 L404.06,216.85 L404.77,216.85 L405.48,216.85 L406.19,216.85 L406.90,216.85 L407.61,216.85 L408.32,216.85 L409.03,216.85 L409.75,216.85 L410.46,216.85 L411.17,216.85 L411.88,216.85 L412.59,216.85 L413.30,216.85 L414.01,216.85 L414.72,216.85 L415.43,216.85 L416.14,216.85 L416.85,216.85 L417.56,216.85 L418.27,216.85 L418.98,216.85 L419.69,216.85 L420.40,216.85 L421.11,216.85 L421.82,216.85 L422.53,216.85 L423.24,216.85 L423.95,216.85 L424.67,216.85 L425.38,216.85 L426.09,216.85 L426.80,216.85 L427.51,216.85 L428.22,216.85 L428.93,216.85 L429.64,216.85 L430.35,216.85 L431.06,216.85 L431.77,216.85 L432.48,216.85 L433.19,216.85 L433.90,216.85 L434.61,216.85 L435.32,216.85 L436.03,216.85 L436.74,216.85 L437.45,216.85 L438.16,216.85 L438.87,216.85 L439.59,216.85 L440.30,216.85 L441.01,216.85 L441.72,216.85 L442.43,216.85 L443.14,216.85 L443.85,216.85 L444.56,216.85 L445.27,216.85 L445.98,216.85 L446.69,216.85 L447.40,216.85 L448.11,216.85 L448.82,216.85 L449.53,216.85 L450.24,216.85 L450.95,216.85 L451.66,216.85 L452.37,216.85 L453.08,216.85 L453.79,216.85 L454.51,216.85 L455.22,216.85 L455.93,216.85 L456.64,216.85 L457.35,216.85 L458.06,216.85 L458.77,216.85 L459.48,216.85 L460.19,216.85 L460.90,216.85 L461.61,216.85 L462.32,216.85 L463.03,216.85 L463.74,216.85 L464.45,216.85 L465.16,216.85 L465.87,216.85 L466.58,216.85 L467.29,216.85 L468.00,216.85 L468.71,216.85 L469.42,216.85 L470.14,216.85 L470.85,216.85 L471.56,216.85 L472.27,216.85 L472.98,216.85 L473.69,216.85 L474.40,216.85 L475.11,216.85 L475.82,216.85 L476.53,216.85 L477.24,216.85 L477.95,216.85 L478.66,216.85 L479.37,216.85 L480.08,216.85 L480.79,216.85 L481.50,216.85 L482.21,216.85 L482.92,216.85 L483.63,216.85 L484.34,216.85 L485.06,216.85 L485.77,216.85 L486.48,216.85 L487.19,216.85 L487.90,216.85 L488.61,216.85 L489.32,216.85 L490.03,216.85 L490.74,216.85 L491.45,216.85 L492.16,216.85 L492.87,216.85 L493.58,216.85 L494.29,216.85 L495.00,216.85 L495.71,216.85 L496.42,216.85 L497.13,216.85 L497.84,216.85 L498.55,216.85 L499.26,216.85 L499.98,216.85 L500.69,216.85 L501.40,216.85 L502.11,216.85 L502.82,216.85 L503.53,216.85 L504.24,216.85 L504.95,216.85 L505.66,216.85 L506.37,216.85 L507.08,216.85 L507.79,216.85 L508.50,216.85 L509.21,216.85 L509.92,216.85 L510.63,216.85 L511.34,216.85 L512.05,216.85 L512.76,216.85 L513.47,216.85 L514.18,216.85 L514.90,216.85 L515.61,216.85 L516.32,216.85 L517.03,216.85 L517.74,216.85 L518.45,216.85 L519.16,216.85 L519.87,216.85 L520.58,216.85 L521.29,216.85 L522.00,216.85 L522.71,216.85 L523.42,216.85 L524.13,216.85 L524.84,216.85 L525.55,216.85 L526.26,216.85 L526.97,216.85 L527.68,216.85 L528.39,216.85 L529.10,216.85 L529.81,216.85 L530.53,216.85 L531.24,216.85 L531.95,216.85 L532.66,216.85 L533.37,216.85 L534.08,216.85 L534.79,216.85 L535.50,216.85 L536.21,216.85 L536.92,216.85 L537.63,216.85 L538.34,216.85 L539.05,216.85 L539.76,216.85 L540.47,216.85 L541.18,216.85 L541.89,216.85 L542.60,216.85 L543.31,216.85 L544.02,216.85 L544.73,216.85 L545.45,216.85 L546.16,216.85 L546.87,216.85 L547.58,216.85 L548.29,216.85 L549.00,216.85 L549.71,216.85 L550.42,216.85 L551.13,216.85 L551.84,216.85 L552.55,216.85 L553.26,216.85 L553.97,216.85 L554.68,216.85 L555.39,216.85 L556.10,216.85 L556.81,216.85 L557.52,216.85 L558.23,216.85 L558.94,216.85 L559.65,216.85 L560.37,216.85 L561.08,216.85 L561.79,216.85 L562.50,216.85 L563.21,216.85 L563.92,216.85 L564.63,216.85 L565.34,216.85 L566.05,216.85 L566.76,216.85 L567.47,216.85 L568.18,216.85 L568.89,216.85 L569.60,216.85 L570.31,216.85 L571.02,216.85 L571.73,216.85 L572.44,216.85 L573.15,216.85 L573.86,216.85 L574.57,216.85 L575.29,216.85 L576.00,216.85 L576.71,216.85 L577.42,216.85 L578.13,216.85 L578.84,216.85 L579.55,216.85 L580.26,216.85 L580.97,216.85 L581.68,216.85 L582.39,216.85 L583.10,216.85 L583.81,216.85 L584.52,216.85 L585.23,216.85 L585.94,216.85 L586.65,216.85 L587.36,216.85 L588.07,216.85 L588.78,216.85 L589.49,216.85 L590.21,216.85 L590.92,216.85 L591.63,216.85 L592.34,216.85 L593.05,216.85 L593.76,216.85 L594.47,216.85 L595.18,216.85 L595.89,216.85 L596.60,216.85 L597.31,216.85 L598.02,216.85 L598.73,216.85 L599.44,216.85 L600.15,216.85 L600.86,216.85 L601.57,216.85 L602.28,216.85 L602.99,216.85 L603.70,216.85 L604.41,216.85 L605.12,216.85 L605.84,216.85 L606.55,216.85 L607.26,216.85 L607.97,216.85 L608.68,216.85 L609.39,216.85 L610.10,216.85 L610.81,216.85 L611.52,216.85 L612.23,216.85 L612.94,216.85 L613.65,216.85 L614.36,216.85 L615.07,216.85 L615.78,216.85 L616.49,216.85 L617.20,216.85 L617.91,216.85 L618.62,216.85 L619.33,216.85 L620.04,216.85 L620.76,216.85 L621.47,216.85 L622.18,216.85 L622.89,216.85 L623.60,216.85 L624.31,216.85 L625.02,216.85 L625.73,216.85 L626.44,216.85 L627.15,216.85 L627.86,216.85 L628.57,216.85 L629.28,216.85 L629.99,216.85 L630.70,216.85 L631.41,216.85 L632.12,216.85 L632.83,216.85" stroke="#ff0000" stroke-width="2.0" fill="none" stroke-dasharray="5.2 2.47" stroke-dashoffset="5.562" stroke-linejoin="round"/>
<path d="M65.17,162.82 L65.88,162.83 L66.59,162.83 L67.30,162.84 L68.01,162.84 L68.72,162.85 L69.43,162.86 L70.14,162.86 L70.85,162.87 L71.56,162.88 L72.27,162.88 L72.98,162.89 L73.69,162.90 L74.40,162.91 L75.11,162.92 L75.82,162.93 L76.53,162.93 L77.24,162.94 L77.96,162.95 L78.67,162.96 L79.38,162.97 L80.09,162.98 L80.80,163.00 L81.51,163.01 L82.22,163.02 L82.93,163.03 L83.64,163.04 L84.35,163.06 L85.06,163.07 L85.77,163.08 L86.48,163.10 L87.19,163.11 L87.90,163.13 L88.61,163.15 L89.32,163.16 L90.03,163.18 L90.74,163.20 L91.45,163.22 L92.16,163.24 L92.88,163.26 L93.59,163.28 L94.30,163.30 L95.01,163.32 L95.72,163.34 L96.43,163.37 L97.14,163.39 L97.85,163.41 L98.56,163.44 L99.27,163.47 L99.98,163.50 L100.69,163.52 L101.40,163.55 L102.11,163.58 L102.82,163.62 L103.53,163.65 L104.24,163.68 L104.95,163.72 L105.66,163.75 L106.37,163.79 L107.08,163.83 L107.79,163.87 L108.51,163.91 L109.22,163.96 L109.93,164.00 L110.64,164.05 L111.35,164.09 L112.06,164.14 L112.77,164.19 L113.48,164.25 L114.19,164.30 L114.90,164.36 L115.61,164.41 L116.32,164.47 L117.03,164.54 L117.74,164.60 L118.45,164.66 L119.16,164.73 L119.87,164.80 L120.58,164.88 L121.29,164.95 L122.00,165.03 L122.71,165.11 L123.43,165.19 L124.14,165.28 L124.85,165.36 L125.56,165.46 L126.27,165.55 L126.98,165.65 L127.69,165.75 L128.40,165.85 L129.11,165.96 L129.82,166.07 L130.53,166.18 L131.24,166.30 L131.95,166.42 L132.66,166.54 L133.37,166.67 L134.08,166.80 L134.79,166.94 L135.50,167.08 L136.21,167.22 L136.92,167.37 L137.63,167.53 L138.35,167.69 L139.06,167.85 L139.77,168.02 L140.48,168.19 L141.19,168.37 L141.90,168.55 L142.61,168.74 L143.32,168.94 L144.03,169.14 L144.74,169.34 L145.45,169.55 L146.16,169.77 L146.87,169.99 L147.58,170.22 L148.29,170.46 L149.00,170.70 L149.71,170.95 L150.42,171.21 L151.13,171.47 L151.84,171.74 L152.55,172.02 L153.27,172.30 L153.98,172.59 L154.69,172.89 L155.40,173.19 L156.11,173.51 L156.82,173.83 L157.53,174.15 L158.24,174.49 L158.95,174.83 L159.66,175.19 L160.37,175.54 L161.08,175.91 L161.79,176.29 L162.50,176.67 L163.21,177.06 L163.92,177.46 L164.63,177.87 L165.34,178.29 L166.05,178.71 L166.76,179.14 L167.47,179.58 L168.19,180.03 L168.90,180.48 L169.61,180.95 L170.32,181.42 L171.03,181.90 L171.74,182.38 L172.45,182.88 L173.16,183.38 L173.87,183.89 L174.58,184.40 L175.29,184.93 L176.00,185.46 L176.71,185.99 L177.42,186.53 L178.13,187.08 L178.84,187.64 L179.55,188.20 L180.26,188.76 L180.97,189.33 L181.68,189.91 L182.39,190.49 L183.10,191.07 L183.82,191.66 L184.53,192.25 L185.24,192.84 L185.95,193.44 L186.66,194.04 L187.37,194.64 L188.08,195.25 L188.79,195.86 L189.50,196.46 L190.21,197.07 L190.92,197.68 L191.63,198.29 L192.34,198.90 L193.05,199.51 L193.76,200.11 L194.47,200.72 L195.18,201.32 L195.89,201.93 L196.60,202.53 L197.31,203.12 L198.02,203.72 L198.74,204.31 L199.45,204.90 L200.16,205.48 L200.87,206.06 L201.58,206.64 L202.29,207.21 L203.00,207.77 L203.71,208.33 L204.42,208.88 L205.13,209.43 L205.84,209.97 L206.55,210.51 L207.26,211.04 L207.97,211.56 L208.68,212.07 L209.39,212.58 L210.10,213.08 L210.81,213.58 L211.52,214.06 L212.23,214.54 L212.94,215.01 L213.66,215.48 L214.37,215.93 L215.08,216.38 L215.79,216.82 L216.50,217.25 L217.21,217.67 L217.92,218.09 L218.63,218.50 L219.34,218.90 L220.05,219.29 L220.76,219.67 L221.47,220.05 L222.18,220.41 L222.89,220.77 L223.60,221.12 L224.31,221.47 L225.02,221.80 L225.73,222.13 L226.44,222.45 L227.15,222.76 L227.86,223.07 L228.58,223.37 L229.29,223.66 L230.00,223.94 L230.71,224.22 L231.42,224.48 L232.13,224.75 L232.84,225.00 L233.55,225.25 L234.26,225.49 L234.97,225.73 L235.68,225.96 L236.39,226.18 L237.10,226.40 L237.81,226.61 L238.52,226.82 L239.23,227.02 L239.94,227.21 L240.65,227.40 L241.36,227.59 L242.07,227.76 L242.78,227.94 L243.49,228.11 L244.21,228.27 L244.92,228.43 L245.63,228.58 L246.34,228.73 L247.05,228.88 L247.76,229.02 L248.47,229.15 L249.18,229.29 L249.89,229.42 L250.60,229.54 L251.31,229.66 L252.02,229.78 L252.73,229.89 L253.44,230.00 L254.15,230.11 L254.86,230.22 L255.57,230.32 L256.28,230.41 L256.99,230.51 L257.70,230.60 L258.41,230.69 L259.13,230.77 L259.84,230.86 L260.55,230.94 L261.26,231.02 L261.97,231.09 L262.68,231.17 L263.39,231.24 L264.10,231.31 L264.81,231.37 L265.52,231.44 L266.23,231.50 L266.94,231.56 L267.65,231.62 L268.36,231.68 L269.07,231.73 L269.78,231.79 L270.49,231.84 L271.20,231.89 L271.91,231.94 L272.62,231.99 L273.33,232.03 L274.05,232.08 L274.76,232.12 L275.47,232.16 L276.18,232.20 L276.89,232.24 L277.60,232.28 L278.31,232.32 L279.02,232.35 L279.73,232.39 L280.44,232.42 L281.15,232.45 L281.86,232.48 L282.57,232.52 L283.28,232.55 L283.99,232.57 L284.70,232.60 L285.41,232.63 L286.12,232.66 L286.83,232.68 L287.54,232.71 L288.25,232.73 L288.97,232.76 L289.68,232.78 L290.39,232.80 L291.10,232.82 L291.81,232.85 L292.52,232.87 L293.23,232.89 L293.94,232.91 L294.65,232.93 L295.36,232.94 L296.07,232.96 L296.78,232.98 L297.49,233.00 L298.20,233.02 L298.91,233.03 L299.62,233.05 L300.33,233.07 L301.04,233.08 L301.75,233.10 L302.46,233.11 L303.17,233.13 L303.89,233.14 L304.60,233.16 L305.31,233.17 L306.02,233.18 L306.73,233.20 L307.44,233.21 L308.15,233.23 L308.86,233.24 L309.57,233.25 L310.28,233.27 L310.99,233.28 L311.70,233.29 L312.41,233.30 L313.12,233.32 L313.83,233.33 L314.54,233.34 L315.25,233.36 L315.96,233.37 L316.67,233.38 L317.38,233.39 L318.09,233.41 L318.80,233.42 L319.52,233.43 L320.23,233.44 L320.94,233.46 L321.65,233.47 L322.36,233.48 L323.07,233.49 L323.78,233.51 L324.49,233.52 L325.20,233.53 L325.91,233.55 L326.62,233.56 L327.33,233.57 L328.04,233.59 L328.75,233.60 L329.46,233.62 L330.17,233.63 L330.88,233.65 L331.59,233.66 L332.30,233.68 L333.01,233.69 L333.72,233.71 L334.44,233.72 L335.15,233.74 L335.86,233.75 L336.57,233.77 L337.28,233.79 L337.99,233.81 L338.70,233.82 L339.41,233.84 L340.12,233.86 L340.83,233.88 L341.54,233.90 L342.25,233.92 L342.96,233.94 L343.67,233.96 L344.38,233.98 L345.09,234.00 L345.80,234.02 L346.51,234.04 L347.22,234.07 L347.93,234.09 L348.64,234.12 L349.36,234.14 L350.07,234.17 L350.78,234.19 L351.49,234.22 L352.20,234.25 L352.91,234.27 L353.62,234.30 L354.33,234.33 L355.04,234.36 L355.75,234.39 L356.46,234.42 L357.17,234.46 L357.88,234.49 L358.59,234.52 L359.30,234.56 L360.01,234.60 L360.72,234.63 L361.43,234.67 L362.14,234.71 L362.85,234.75 L363.56,234.79 L364.28,234.83 L364.99,234.88 L365.70,234.92 L366.41,234.97 L367.12,235.02 L367.83,235.06 L368.54,235.12 L369.25,235.17 L369.96,235.22 L370.67,235.28 L371.38,235.33 L372.09,235.39 L372.80,235.45 L373.51,235.51 L374.22,235.57 L374.93,235.64 L375.64,235.71 L376.35,235.78 L377.06,235.85 L377.77,235.92 L378.48,236.00 L379.20,236.08 L379.91,236.16 L380.62,236.24 L381.33,236.33 L382.04,236.42 L382.75,236.51 L383.46,236.60 L384.17,236.70 L384.88,236.80 L385.59,236.90 L386.30,237.01 L387.01,237.12 L387.72,237.24 L388.43,237.36 L389.14,237.48 L389.85,237.61 L390.56,237.74 L391.27,237.87 L391.98,238.02 L392.69,238.16 L393.40,238.31 L394.11,238.47 L394.83,238.64 L395.54,238.81 L396.25,238.99 L396.96,239.18 L397.67,239.38 L398.38,239.58 L399.09,239.80 L399.80,240.03 L400.51,240.27 L401.22,240.52 L401.93,240.79 L402.64,241.08 L403.35,241.38 L404.06,241.71 L404.77,242.05 L405.48,242.41 L406.19,242.80 L406.90,243.21 L407.61,243.65 L408.32,244.11 L409.03,244.61 L409.75,245.14 L410.46,245.70 L411.17,246.29 L411.88,246.93 L412.59,247.60 L413.30,248.31 L414.01,249.05 L414.72,249.84 L415.43,250.66 L416.14,251.52 L416.85,252.41 L417.56,253.35 L418.27,254.34 L418.98,255.38 L419.69,256.47 L420.40,257.62 L421.11,258.82 L421.82,260.08 L422.53,261.40 L423.24,262.77 L423.95,264.20 L424.67,265.69 L425.38,267.24 L426.09,268.85 L426.80,270.51 L427.51,272.23 L428.22,274.02 L428.93,275.86 L429.64,277.76 L430.35,279.71 L431.06,281.70 L431.77,283.74 L432.48,285.83 L433.19,287.97 L433.90,290.17 L434.61,292.42 L435.32,294.72 L436.03,297.05 L436.74,299.42 L437.45,301.82 L438.16,304.24 L438.87,306.67 L439.59,309.11 L440.30,311.54 L441.01,313.97 L441.72,316.40 L442.43,318.83 L443.14,321.28 L443.85,323.75 L444.56,326.22 L445.27,328.69 L445.98,331.14 L446.69,333.57 L447.40,335.97 L448.11,338.33 L448.82,340.64 L449.53,342.91 L450.24,345.13 L450.95,347.31 L451.66,349.42 L452.37,351.48 L453.08,353.46 L453.79,355.37 L454.51,357.21 L455.22,358.98 L455.93,360.66 L456.64,362.27 L457.35,363.80 L458.06,365.27 L458.77,366.67 L459.48,368.01 L460.19,369.27 L460.90,370.47 L461.61,371.60 L462.32,372.66 L463.03,373.66 L463.74,374.60 L464.45,375.48 L465.16,376.31 L465.87,377.08 L466.58,377.81 L467.29,378.49 L468.00,379.13 L468.71,379.72 L469.42,380.28 L470.14,380.79 L470.85,381.28 L471.56,381.73 L472.27,382.15 L472.98,382.54 L473.69,382.90 L474.40,383.24 L475.11,383.56 L475.82,383.85 L476.53,384.13 L477.24,384.38 L477.95,384.61 L478.66,384.83 L479.37,385.04 L480.08,385.22 L480.79,385.40 L481.50,385.56 L482.21,385.71 L482.92,385.85 L483.63,385.98 L484.34,386.10 L485.06,386.21 L485.77,386.32 L486.48,386.41 L487.19,386.50 L487.90,386.58 L488.61,386.66 L489.32,386.73 L490.03,386.79 L490.74,386.86 L491.45,386.91 L492.16,386.96 L492.87,387.01 L493.58,387.06 L494.29,387.10 L495.00,387.13 L495.71,387.17 L496.42,387.20 L497.13,387.23 L497.84,387.26 L498.55,387.29 L499.26,387.31 L499.98,387.33 L500.69,387.35 L501.40,387.37 L502.11,387.39 L502.82,387.41 L503.53,387.42 L504.24,387.44 L504.95,387.45 L505.66,387.46 L506.37,387.47 L507.08,387.48 L507.79,387.49 L508.50,387.50 L509.21,387.51 L509.92,387.52 L510.63,387.52 L511.34,387.53 L512.05,387.54 L512.76,387.54 L513.47,387.55 L514.18,387.55 L514.90,387.55 L515.61,387.56 L516.32,387.56 L517.03,387.57 L517.74,387.57 L518.45,387.57 L519.16,387.57 L519.87,387.58 L520.58,387.58 L521.29,387.58 L522.00,387.58 L522.71,387.59 L523.42,387.59 L524.13,387.59 L524.84,387.59 L525.55,387.59 L526.26,387.59 L526.97,387.59 L527.68,387.60 L528.39,387.60 L529.10,387.60 L529.81,387.60 L530.53,387.60 L531.24,387.60 L531.95,387.60 L532.66,387.60 L533.37,387.60 L534.08,387.60 L534.79,387.60 L535.50,387.60 L536.21,387.60 L536.92,387.60 L537.63,387.60 L538.34,387.60 L539.05,387.60 L539.76,387.61 L540.47,387.61 L541.18,387.61 L541.89,387.61 L542.60,387.61 L543.31,387.61 L544.02,387.61 L544.73,387.61 L545.45,387.61 L546.16,387.61 L546.87,387.61 L547.58,387.61 L548.29,387.61 L549.00,387.61 L549.71,387.61 L550.42,387.61 L551.13,387.61 L551.84,387.61 L552.55,387.61 L553.26,387.61 L553.97,387.61 L554.68,387.61 L555.39,387.61 L556.10,387.61 L556.81,387.61 L557.52,387.61 L558.23,387.61 L558.94,387.61 L559.65,387.61 L560.37,387.61 L561.08,387.61 L561.79,387.61 L562.50,387.61 L563.21,387.61 L563.92,387.61 L564.63,387.61 L565.34,387.61 L566.05,387.61 L566.76,387.61 L567.47,387.61 L568.18,387.61 L568.89,387.61 L569.60,387.61 L570.31,387.61 L571.02,387.61 L571.73,387.61 L572.44,387.61 L573.15,387.61 L573.86,387.61 L574.57,387.61 L575.29,387.61 L576.00,387.61 L576.71,387.61 L577.42,387.61 L578.13,387.61 L578.84,387.61 L579.55,387.61 L580.26,387.61 L580.97,387.61 L581.68,387.61 L582.39,387.61 L583.10,387.61 L583.81,387.61 L584.52,387.61 L585.23,387.61 L585.94,387.61 L586.65,387.61 L587.36,387.61 L588.07,387.61 L588.78,387.61 L589.49,387.61 L590.21,387.61 L590.92,387.61 L591.63,387.61 L592.34,387.61 L593.05,387.61 L593.76,387.61 L594.47,387.61 L595.18,387.61 L595.89,387.61 L596.60,387.61 L597.31,387.61 L598.02,387.61 L598.73,387.61 L599.44,387.61 L600.15,387.61 L600.86,387.61 L601.57,387.61 L602.28,387.61 L602.99,387.61 L603.70,387.61 L604.41,387.61 L605.12,387.61 L605.84,387.61 L606.55,387.61 L607.26,387.61 L607.97,387.61 L608.68,387.61 L609.39,387.61 L610.10,387.61 L610.81,387.61 L611.52,387.61 L612.23,387.61 L612.94,387.61 L613.65,387.61 L614.36,387.61 L615.07,387.61 L615.78,387.61 L616.49,387.61 L617.20,387.61 L617.91,387.61 L618.62,387.61 L619.33,387.61 L620.04,387.61 L620.76,387.61 L621.47,387.61 L622.18,387.61 L622.89,387.61 L623.60,387.61 L624.31,387.61 L625.02,387.61 L625.73,387.61 L626.44,387.61 L627.15,387.61 L627.86,387.61 L628.57,387.61 L629.28,387.61 L629.99,387.61 L630.70,387.61 L631.41,387.61 L632.12,387.61 L632.83,387.61" stroke="#0000ff" stroke-width="2.0" fill="none" stroke-dasharray="5.25 2.35" stroke-linejoin="round"/>
<path d="M65.17,54.53 L65.88,54.54 L66.59,54.55 L67.30,54.56 L68.01,54.57 L68.72,54.57 L69.43,54.58 L70.14,54.59 L70.85,54.60 L71.56,54.62 L72.27,54.63 L72.98,54.64 L73.69,54.65 L74.40,54.66 L75.11,54.67 L75.82,54.69 L76.53,54.70 L77.24,54.72 L77.96,54.73 L78.67,54.74 L79.38,54.76 L80.09,54.78 L80.80,54.79 L81.51,54.81 L82.22,54.83 L82.93,54.85 L83.64,54.87 L84.35,54.89 L85.06,54.91 L85.77,54.93 L86.48,54.95 L87.19,54.97 L87.90,54.99 L88.61,55.02 L89.32,55.04 L90.03,55.07 L90.74,55.10 L91.45,55.12 L92.16,55.15 L92.88,55.18 L93.59,55.21 L94.30,55.25 L95.01,55.28 L95.72,55.31 L96.43,55.35 L97.14,55.38 L97.85,55.42 L98.56,55.46 L99.27,55.50 L99.98,55.54 L100.69,55.59 L101.40,55.63 L102.11,55.68 L102.82,55.72 L103.53,55.77 L104.24,55.82 L104.95,55.88 L105.66,55.93 L106.37,55.99 L107.08,56.05 L107.79,56.11 L108.51,56.17 L109.22,56.23 L109.93,56.30 L110.64,56.37 L111.35,56.44 L112.06,56.51 L112.77,56.59 L113.48,56.67 L114.19,56.75 L114.90,56.83 L115.61,56.92 L116.32,57.01 L117.03,57.10 L117.74,57.20 L118.45,57.30 L119.16,57.40 L119.87,57.50 L120.58,57.61 L121.29,57.73 L122.00,57.84 L122.71,57.96 L123.43,58.09 L124.14,58.21 L124.85,58.35 L125.56,58.48 L126.27,58.62 L126.98,58.77 L127.69,58.92 L128.40,59.07 L129.11,59.23 L129.82,59.40 L130.53,59.57 L131.24,59.75 L131.95,59.93 L132.66,60.11 L133.37,60.31 L134.08,60.50 L134.79,60.71 L135.50,60.92 L136.21,61.14 L136.92,61.36 L137.63,61.59 L138.35,61.83 L139.06,62.07 L139.77,62.33 L140.48,62.59 L141.19,62.85 L141.90,63.13 L142.61,63.41 L143.32,63.70 L144.03,64.00 L144.74,64.31 L145.45,64.63 L146.16,64.96 L146.87,65.29 L147.58,65.64 L148.29,65.99 L149.00,66.35 L149.71,66.73 L150.42,67.11 L151.13,67.51 L151.84,67.91 L152.55,68.32 L153.27,68.75 L153.98,69.18 L154.69,69.63 L155.40,70.09 L156.11,70.56 L156.82,71.04 L157.53,71.53 L158.24,72.04 L158.95,72.55 L159.66,73.08 L160.37,73.62 L161.08,74.17 L161.79,74.73 L162.50,75.31 L163.21,75.89 L163.92,76.49 L164.63,77.10 L165.34,77.73 L166.05,78.36 L166.76,79.01 L167.47,79.67 L168.19,80.34 L168.90,81.03 L169.61,81.72 L170.32,82.43 L171.03,83.15 L171.74,83.88 L172.45,84.62 L173.16,85.37 L173.87,86.13 L174.58,86.91 L175.29,87.69 L176.00,88.48 L176.71,89.29 L177.42,90.10 L178.13,90.92 L178.84,91.76 L179.55,92.59 L180.26,93.44 L180.97,94.30 L181.68,95.16 L182.39,96.03 L183.10,96.91 L183.82,97.79 L184.53,98.67 L185.24,99.57 L185.95,100.46 L186.66,101.36 L187.37,102.27 L188.08,103.17 L188.79,104.08 L189.50,104.99 L190.21,105.91 L190.92,106.82 L191.63,107.73 L192.34,108.65 L193.05,109.56 L193.76,110.47 L194.47,111.38 L195.18,112.29 L195.89,113.19 L196.60,114.09 L197.31,114.99 L198.02,115.88 L198.74,116.77 L199.45,117.65 L200.16,118.52 L200.87,119.39 L201.58,120.25 L202.29,121.11 L203.00,121.96 L203.71,122.79 L204.42,123.62 L205.13,124.45 L205.84,125.26 L206.55,126.06 L207.26,126.86 L207.97,127.64 L208.68,128.41 L209.39,129.17 L210.10,129.93 L210.81,130.67 L211.52,131.40 L212.23,132.11 L212.94,132.82 L213.66,133.52 L214.37,134.20 L215.08,134.87 L215.79,135.53 L216.50,136.18 L217.21,136.81 L217.92,137.43 L218.63,138.05 L219.34,138.64 L220.05,139.23 L220.76,139.81 L221.47,140.37 L222.18,140.92 L222.89,141.46 L223.60,141.98 L224.31,142.50 L225.02,143.00 L225.73,143.49 L226.44,143.97 L227.15,144.44 L227.86,144.90 L228.58,145.35 L229.29,145.78 L230.00,146.21 L230.71,146.62 L231.42,147.03 L232.13,147.42 L232.84,147.80 L233.55,148.18 L234.26,148.54 L234.97,148.89 L235.68,149.24 L236.39,149.57 L237.10,149.90 L237.81,150.22 L238.52,150.53 L239.23,150.83 L239.94,151.12 L240.65,151.40 L241.36,151.68 L242.07,151.95 L242.78,152.21 L243.49,152.46 L244.21,152.70 L244.92,152.94 L245.63,153.17 L246.34,153.40 L247.05,153.62 L247.76,153.83 L248.47,154.03 L249.18,154.23 L249.89,154.42 L250.60,154.61 L251.31,154.79 L252.02,154.97 L252.73,155.14 L253.44,155.31 L254.15,155.47 L254.86,155.62 L255.57,155.77 L256.28,155.92 L256.99,156.06 L257.70,156.20 L258.41,156.33 L259.13,156.46 L259.84,156.59 L260.55,156.71 L261.26,156.83 L261.97,156.94 L262.68,157.05 L263.39,157.16 L264.10,157.26 L264.81,157.36 L265.52,157.46 L266.23,157.55 L266.94,157.64 L267.65,157.73 L268.36,157.82 L269.07,157.90 L269.78,157.98 L270.49,158.06 L271.20,158.14 L271.91,158.21 L272.62,158.28 L273.33,158.35 L274.05,158.42 L274.76,158.48 L275.47,158.54 L276.18,158.60 L276.89,158.66 L277.60,158.72 L278.31,158.77 L279.02,158.83 L279.73,158.88 L280.44,158.93 L281.15,158.98 L281.86,159.03 L282.57,159.07 L283.28,159.12 L283.99,159.16 L284.70,159.20 L285.41,159.25 L286.12,159.29 L286.83,159.32 L287.54,159.36 L288.25,159.40 L288.97,159.43 L289.68,159.47 L290.39,159.50 L291.10,159.54 L291.81,159.57 L292.52,159.60 L293.23,159.63 L293.94,159.66 L294.65,159.69 L295.36,159.72 L296.07,159.74 L296.78,159.77 L297.49,159.80 L298.20,159.82 L298.91,159.85 L299.62,159.87 L300.33,159.90 L301.04,159.92 L301.75,159.94 L302.46,159.97 L303.17,159.99 L303.89,160.01 L304.60,160.03 L305.31,160.06 L306.02,160.08 L306.73,160.10 L307.44,160.12 L308.15,160.14 L308.86,160.16 L309.57,160.18 L310.28,160.20 L310.99,160.22 L311.70,160.24 L312.41,160.26 L313.12,160.28 L313.83,160.30 L314.54,160.31 L315.25,160.33 L315.96,160.35 L316.67,160.37 L317.38,160.39 L318.09,160.41 L318.80,160.43 L319.52,160.45 L320.23,160.47 L320.94,160.48 L321.65,160.50 L322.36,160.52 L323.07,160.54 L323.78,160.56 L324.49,160.58 L325.20,160.60 L325.91,160.62 L326.62,160.64 L327.33,160.66 L328.04,160.68 L328.75,160.70 L329.46,160.72 L330.17,160.75 L330.88,160.77 L331.59,160.79 L332.30,160.81 L333.01,160.84 L333.72,160.86 L334.44,160.88 L335.15,160.91 L335.86,160.93 L336.57,160.96 L337.28,160.98 L337.99,161.01 L338.70,161.03 L339.41,161.06 L340.12,161.09 L340.83,161.12 L341.54,161.15 L342.25,161.18 L342.96,161.21 L343.67,161.24 L344.38,161.27 L345.09,161.30 L345.80,161.33 L346.51,161.37 L347.22,161.40 L347.93,161.44 L348.64,161.47 L349.36,161.51 L350.07,161.55 L350.78,161.59 L351.49,161.63 L352.20,161.67 L352.91,161.71 L353.62,161.75 L354.33,161.80 L355.04,161.84 L355.75,161.89 L356.46,161.94 L357.17,161.98 L357.88,162.03 L358.59,162.09 L359.30,162.14 L360.01,162.19 L360.72,162.25 L361.43,162.31 L362.14,162.36 L362.85,162.42 L363.56,162.49 L364.28,162.55 L364.99,162.62 L365.70,162.68 L366.41,162.75 L367.12,162.82 L367.83,162.90 L368.54,162.97 L369.25,163.05 L369.96,163.13 L370.67,163.21 L371.38,163.30 L372.09,163.38 L372.80,163.47 L373.51,163.57 L374.22,163.66 L374.93,163.76 L375.64,163.86 L376.35,163.97 L377.06,164.07 L377.77,164.18 L378.48,164.30 L379.20,164.41 L379.91,164.54 L380.62,164.66 L381.33,164.79 L382.04,164.92 L382.75,165.06 L383.46,165.20 L384.17,165.35 L384.88,165.50 L385.59,165.65 L386.30,165.82 L387.01,165.98 L387.72,166.15 L388.43,166.33 L389.14,166.52 L389.85,166.71 L390.56,166.91 L391.27,167.11 L391.98,167.32 L392.69,167.54 L393.40,167.77 L394.11,168.01 L394.83,168.26 L395.54,168.52 L396.25,168.79 L396.96,169.07 L397.67,169.36 L398.38,169.67 L399.09,170.00 L399.80,170.34 L400.51,170.70 L401.22,171.08 L401.93,171.49 L402.64,171.92 L403.35,172.38 L404.06,172.86 L404.77,173.37 L405.48,173.92 L406.19,174.50 L406.90,175.11 L407.61,175.77 L408.32,176.47 L409.03,177.21 L409.75,178.00 L410.46,178.85 L411.17,179.74 L411.88,180.69 L412.59,181.70 L413.30,182.76 L414.01,183.88 L414.72,185.06 L415.43,186.29 L416.14,187.58 L416.85,188.92 L417.56,190.33 L418.27,191.81 L418.98,193.37 L419.69,195.01 L420.40,196.73 L421.11,198.53 L421.82,200.42 L422.53,202.39 L423.24,204.46 L423.95,206.60 L424.67,208.84 L425.38,211.16 L426.09,213.57 L426.80,216.07 L427.51,218.65 L428.22,221.33 L428.93,224.09 L429.64,226.94 L430.35,229.86 L431.06,232.86 L431.77,235.92 L432.48,239.05 L433.19,242.26 L433.90,245.55 L434.61,248.93 L435.32,252.37 L436.03,255.88 L436.74,259.43 L437.45,263.02 L438.16,266.65 L438.87,270.31 L439.59,273.97 L440.30,277.61 L441.01,281.25 L441.72,284.89 L442.43,288.55 L443.14,292.22 L443.85,295.92 L444.56,299.63 L445.27,303.33 L445.98,307.01 L446.69,310.65 L447.40,314.25 L448.11,317.79 L448.82,321.26 L449.53,324.66 L450.24,328.00 L450.95,331.26 L451.66,334.43 L452.37,337.51 L453.08,340.49 L453.79,343.36 L454.51,346.12 L455.22,348.76 L455.93,351.29 L456.64,353.70 L457.35,356.00 L458.06,358.21 L458.77,360.31 L459.48,362.31 L460.19,364.21 L460.90,366.01 L461.61,367.70 L462.32,369.30 L463.03,370.80 L463.74,372.20 L464.45,373.52 L465.16,374.76 L465.87,375.93 L466.58,377.02 L467.29,378.04 L468.00,378.99 L468.71,379.88 L469.42,380.71 L470.14,381.49 L470.85,382.22 L471.56,382.89 L472.27,383.52 L472.98,384.11 L473.69,384.66 L474.40,385.17 L475.11,385.64 L475.82,386.08 L476.53,386.49 L477.24,386.87 L477.95,387.22 L478.66,387.55 L479.37,387.85 L480.08,388.14 L480.79,388.40 L481.50,388.64 L482.21,388.87 L482.92,389.08 L483.63,389.27 L484.34,389.45 L485.06,389.62 L485.77,389.77 L486.48,389.92 L487.19,390.05 L487.90,390.17 L488.61,390.29 L489.32,390.39 L490.03,390.49 L490.74,390.58 L491.45,390.67 L492.16,390.74 L492.87,390.82 L493.58,390.88 L494.29,390.95 L495.00,391.00 L495.71,391.06 L496.42,391.10 L497.13,391.15 L497.84,391.19 L498.55,391.23 L499.26,391.27 L499.98,391.30 L500.69,391.33 L501.40,391.36 L502.11,391.39 L502.82,391.41 L503.53,391.43 L504.24,391.45 L504.95,391.47 L505.66,391.49 L506.37,391.51 L507.08,391.52 L507.79,391.54 L508.50,391.55 L509.21,391.56 L509.92,391.57 L510.63,391.58 L511.34,391.59 L512.05,391.60 L512.76,391.61 L513.47,391.62 L514.18,391.63 L514.90,391.63 L515.61,391.64 L516.32,391.64 L517.03,391.65 L517.74,391.65 L518.45,391.66 L519.16,391.66 L519.87,391.67 L520.58,391.67 L521.29,391.67 L522.00,391.68 L522.71,391.68 L523.42,391.68 L524.13,391.68 L524.84,391.69 L525.55,391.69 L526.26,391.69 L526.97,391.69 L527.68,391.69 L528.39,391.69 L529.10,391.70 L529.81,391.70 L530.53,391.70 L531.24,391.70 L531.95,391.70 L532.66,391.70 L533.37,391.70 L534.08,391.70 L534.79,391.70 L535.50,391.70 L536.21,391.71 L536.92,391.71 L537.63,391.71 L538.34,391.71 L539.05,391.71 L539.76,391.71 L540.47,391.71 L541.18,391.71 L541.89,391.71 L542.60,391.71 L543.31,391.71 L544.02,391.71 L544.73,391.71 L545.45,391.71 L546.16,391.71 L546.87,391.71 L547.58,391.71 L548.29,391.71 L549.00,391.71 L549.71,391.71 L550.42,391.71 L551.13,391.71 L551.84,391.71 L552.55,391.71 L553.26,391.71 L553.97,391.71 L554.68,391.71 L555.39,391.71 L556.10,391.71 L556.81,391.71 L557.52,391.71 L558.23,391.71 L558.94,391.71 L559.65,391.71 L560.37,391.71 L561.08,391.71 L561.79,391.71 L562.50,391.71 L563.21,391.71 L563.92,391.71 L564.63,391.71 L565.34,391.71 L566.05,391.71 L566.76,391.71 L567.47,391.71 L568.18,391.71 L568.89,391.71 L569.60,391.71 L570.31,391.71 L571.02,391.71 L571.73,391.71 L572.44,391.71 L573.15,391.71 L573.86,391.71 L574.57,391.71 L575.29,391.71 L576.00,391.71 L576.71,391.71 L577.42,391.71 L578.13,391.71 L578.84,391.71 L579.55,391.71 L580.26,391.71 L580.97,391.71 L581.68,391.71 L582.39,391.71 L583.10,391.71 L583.81,391.71 L584.52,391.71 L585.23,391.71 L585.94,391.71 L586.65,391.71 L587.36,391.71 L588.07,391.71 L588.78,391.71 L589.49,391.71 L590.21,391.71 L590.92,391.71 L591.63,391.71 L592.34,391.71 L593.05,391.71 L593.76,391.71 L594.47,391.71 L595.18,391.71 L595.89,391.71 L596.60,391.71 L597.31,391.71 L598.02,391.71 L598.73,391.71 L599.44,391.71 L600.15,391.71 L600.86,391.71 L601.57,391.71 L602.28,391.71 L602.99,391.71 L603.70,391.71 L604.41,391.71 L605.12,391.71 L605.84,391.71 L606.55,391.71 L607.26,391.71 L607.97,391.71 L608.68,391.71 L609.39,391.71 L610.10,391.71 L610.81,391.71 L611.52,391.71 L612.23,391.71 L612.94,391.71 L613.65,391.71 L614.36,391.71 L615.07,391.71 L615.78,391.71 L616.49,391.71 L617.20,391.71 L617.91,391.71 L618.62,391.71 L619.33,391.71 L620.04,391.71 L620.76,391.71 L621.47,391.71 L622.18,391.71 L622.89,391.71 L623.60,391.71 L624.31,391.71 L625.02,391.71 L625.73,391.71 L626.44,391.71 L627.15,391.71 L627.86,391.71 L628.57,391.71 L629.28,391.71 L629.99,391.71 L630.70,391.71 L631.41,391.71 L632.12,391.71 L632.83,391.71" stroke="#ff00ff" stroke-width="2.0" fill="none" stroke-dasharray="5.7 2.2 2.2 2.2" stroke-linejoin="round"/>
<path d="M65.00,54.30H632.83" stroke="#707070" stroke-width="1.7" fill="none" stroke-dasharray="5.2 2.47"/>
<path d="M65.00,216.85H632.83" stroke="#707070" stroke-width="1.7" fill="none" stroke-dasharray="5.2 2.47"/>
<path d="M65.00,271.03H632.83" stroke="#707070" stroke-width="1.7" fill="none" stroke-dasharray="5.2 2.47"/>
<path d="M65.00,379.40H632.83" stroke="#707070" stroke-width="1.7" fill="none" stroke-dasharray="5.2 2.47"/>
<path d="M443.92,34.9V410" stroke="#858585" stroke-width="1.15" fill="none" stroke-dasharray="7.8 3.6" stroke-dashoffset="2.9"/>
<path d="M54.17,35V410.7" stroke="#1c1c1c" stroke-width="1.25" fill="none"/>
<path d="M53.42,410.25H645.00" stroke="#000" stroke-width="1.35" fill="none"/>
<rect x="665.93" y="257.8" width="87.07" height="140.2" rx="8.6" ry="8" fill="#fff" stroke="#333" stroke-width="1.35"/>
<path d="M670.92,270H708.25" stroke="#00ff00" stroke-width="2.0" fill="none"/>
<path d="M670.92,298.75H708.25" stroke="#00ffff" stroke-width="2.0" fill="none"/>
<path d="M670.92,327.9H708.25" stroke="#ff0000" stroke-width="2.0" fill="none" stroke-dasharray="5.25 2.35"/>
<path d="M670.92,356.1H708.25" stroke="#0000ff" stroke-width="2.0" fill="none" stroke-dasharray="5.25 2.35"/>
<path d="M670.92,383.9H708.25" stroke="#ff00ff" stroke-width="2.0" fill="none" stroke-dasharray="5.7 2.2 2.2 2.2"/>
</g>
<text transform="translate(30.6,59.4) scale(0.585,1)" font-size="14.6" font-weight="bold" font-style="normal" text-anchor="end" >1.0</text>
<text transform="translate(30.6,140.67) scale(0.585,1)" font-size="14.6" font-weight="bold" font-style="normal" text-anchor="end" >0.5</text>
<text transform="translate(30.6,221.95) scale(0.585,1)" font-size="14.6" font-weight="bold" font-style="normal" text-anchor="end" >0.0</text>
<text transform="translate(30.6,303.23) scale(0.585,1)" font-size="14.6" font-weight="bold" font-style="normal" text-anchor="end" >−0.5</text>
<text transform="translate(30.6,384.5) scale(0.585,1)" font-size="14.6" font-weight="bold" font-style="normal" text-anchor="end" >−1.0</text>
<text transform="translate(152.4,426.6) scale(0.585,1)" font-size="14.6" font-weight="bold" font-style="normal" text-anchor="middle" >0.001</text>
<text transform="translate(266.3,426.6) scale(0.585,1)" font-size="14.6" font-weight="bold" font-style="normal" text-anchor="middle" >1</text>
<text transform="translate(379.7,426.6) scale(0.585,1)" font-size="14.6" font-weight="bold" font-style="normal" text-anchor="middle" >1000</text>
<text transform="translate(31.1,426.5) scale(0.6,1)" font-size="14.6" font-weight="bold">10<tspan font-size="9.3" dy="-5.2">−6</tspan></text>
<text transform="translate(209.7,449.8) scale(0.59,1)" font-size="22.3" font-weight="bold" font-style="normal" text-anchor="middle" >a</text>
<text transform="translate(113.0,29.6) scale(0.66,1)" font-size="18" font-weight="bold" xml:space="preserve"><tspan font-style="italic">α</tspan> = 0.1,</text>
<text transform="translate(158.0,29.6) scale(0.66,1)" font-size="18" font-weight="bold" xml:space="preserve"><tspan font-style="italic">β</tspan> = 0.2,</text>
<text transform="translate(202.3,29.6) scale(0.66,1)" font-size="18" font-weight="bold" xml:space="preserve"><tspan font-style="italic">γ</tspan> = 0.1,</text>
<text transform="translate(245.6,29.6) scale(0.66,1)" font-size="18" font-weight="bold" xml:space="preserve"><tspan font-style="italic">b</tspan> = 0.93</text>
<text transform="translate(430.8,276.0) scale(0.56,1)" font-size="16.7" font-weight="normal" font-style="normal" style="stroke-width:0.95px">Ω</text><text transform="translate(437.9,279.8) scale(0.62,1) skewX(-8)" font-size="11.8" font-weight="normal" font-style="italic" style="stroke-width:0.6px">m</text>
<text transform="translate(430.8,304.7) scale(0.56,1)" font-size="16.7" font-weight="normal" font-style="normal" style="stroke-width:0.95px">Ω</text><text transform="translate(437.9,308.5) scale(0.62,1) skewX(-8)" font-size="11.8" font-weight="normal" font-style="italic" style="stroke-width:0.6px">d</text>
<text transform="translate(430.8,334.3) scale(0.56,1)" font-size="16.7" font-weight="normal" font-style="normal" style="stroke-width:0.95px">Ω</text><text transform="translate(437.9,337.7) scale(0.62,1) skewX(-8)" font-size="11.2" font-weight="normal" font-style="italic" style="stroke-width:0.6px">r</text>
<text transform="translate(430.8,362.3) scale(0.62,1)" font-size="17.5" font-weight="normal" font-style="italic" style="stroke-width:0.8px">ω</text><text transform="translate(439.3,365.0) scale(0.62,1) skewX(0)" font-size="11.7" font-weight="bold" font-style="normal">eff</text>
<text transform="translate(430.8,389.3) scale(0.58,1)" font-size="16" font-weight="bold" font-style="normal">q</text>
</svg></body></html>
